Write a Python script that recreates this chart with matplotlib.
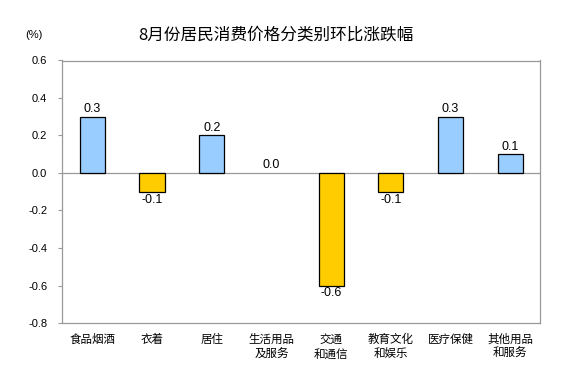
import matplotlib
matplotlib.use("Agg")
import matplotlib.pyplot as plt
import numpy as np

plt.rcParams['font.family'] = ['Liberation Sans', 'Noto Sans CJK SC', 'DejaVu Sans']

# data
categories = ["食品烟酒", "衣着", "居住", "生活用品\n及服务", "交通\n和通信",
              "教育文化\n和娱乐", "医疗保健", "其他用品\n和服务"]
values = [0.3, -0.1, 0.2, 0.0, -0.6, -0.1, 0.3, 0.1]
yticks = [0.6, 0.4, 0.2, 0.0, -0.2, -0.4, -0.6, -0.8]

BLUE = "#99CCFF"
YELLOW = "#FFCC00"

W, H = 564, 379
fig = plt.figure(figsize=(W/100, H/100), dpi=100)
ax = fig.add_axes([62.5/W, 1-323/H, (540-62.5)/W, (323-60.5)/H])

x = np.arange(len(categories))
colors = [BLUE if v >= 0 else YELLOW for v in values]
lws = [0.9 if v != 0 else 0 for v in values]
ax.bar(x, values, width=0.42, color=colors, edgecolor="black", linewidth=lws, zorder=3)
ax.axhline(0, color="#999999", linewidth=0.9, zorder=2)

for xi, v in zip(x, values):
    if v >= 0:
        ax.text(xi, v + 0.008, f"{v:.1f}", ha="center", va="bottom", fontsize=9)
    else:
        ax.text(xi, v - 0.01, f"{v:.1f}", ha="center", va="top", fontsize=9)

ax.set_xlim(-0.5, len(categories) - 0.5)
ax.set_ylim(-0.8, 0.6)
ax.set_yticks(yticks)
ax.set_yticklabels([f"{t:.1f}" for t in yticks], fontsize=8)
ax.set_xticks(x)
ax.set_xticklabels(categories, fontsize=8.3, va="top", linespacing=1.25)
ax.tick_params(axis="x", length=0, pad=8)
ax.tick_params(axis="y", length=3, color="#999999", pad=8)
for s in ax.spines.values():
    s.set_color("#999999")
    s.set_linewidth(0.9)

fig.text(276/W, 1-35/H, "8月份居民消费价格分类别环比涨跌幅", ha="center", va="center",
         fontsize=12, family=['Noto Sans CJK SC', 'DejaVu Sans'])
fig.text(34/W, 1-35/H, "(%)", ha="center", va="center", fontsize=8)

fig.savefig("out.png", dpi=100)
